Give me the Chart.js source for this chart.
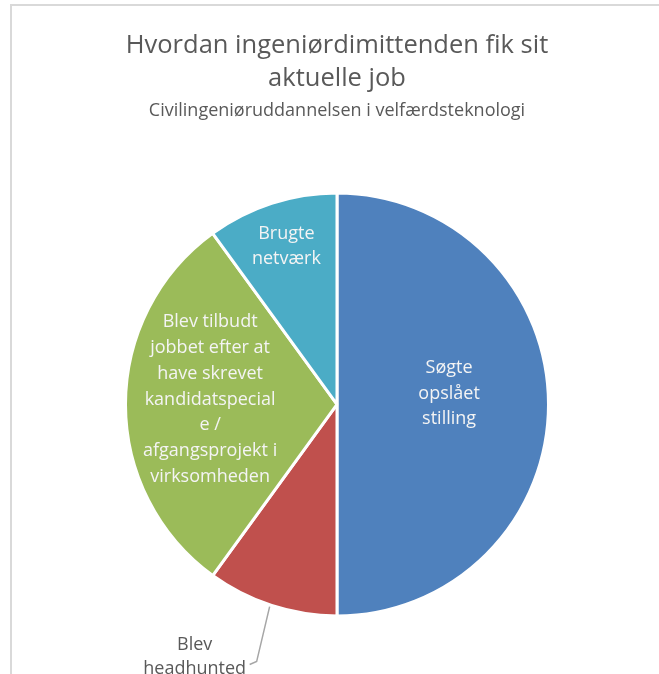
<!DOCTYPE html>
<html>
<head>
<meta charset="utf-8">
<script src="https://cdn.jsdelivr.net/npm/chart.js@4.4.0/dist/chart.umd.min.js"></script>
<style>
  html, body { margin: 0; padding: 0; background: #fff; }
  #wrap { position: relative; width: 659px; height: 674px; }
  #frame { position: absolute; left: 10px; top: 4px; right: -5px; bottom: -5px; border-top: 2px solid #d9d9d9; border-left: 2px solid #d9d9d9; }
  canvas { position: absolute; left: 0; top: 0; }
</style>
</head>
<body>
<div id="wrap">
  <div id="frame"></div>
  <canvas id="pie-chart" width="659" height="674"></canvas>
</div>
<script>
  // data
  var kategorier = ['Søgte opslået stilling', 'Blev headhunted', 'Blev tilbudt jobbet efter at have skrevet kandidatspeciale / afgangsprojekt i virksomheden', 'Brugte netværk'];
  var andele = [50, 10, 30, 10];
  var farver = ['#4F81BD', '#C0504D', '#9BBB59', '#4BACC6'];
  // how the labels wrap in the picture
  var etiketLinjer = [
    ['Søgte', 'opslået', 'stilling'],
    ['Blev', 'headhunted'],
    ['Blev tilbudt', 'jobbet efter at', 'have skrevet', 'kandidatspecial', 'e /', 'afgangsprojekt i', 'virksomheden'],
    ['Brugte', 'netværk']
  ];

  var FONT = '"Open Sans", Lato, sans-serif';

  // label placement per slice: distance from centre (fraction of radius) + small nudge, outside = leader line
  var etiketPos = [
    { d: 0.53, dy: -11 },
    { ude: true },
    { d: 0.60, dy: -5 },
    { d: 0.82, dx: 3, dy: 7 }
  ];

  var etiketPlugin = {
    id: 'etiketter',
    afterDatasetsDraw: function (chart) {
      var ctx = chart.ctx;
      var meta = chart.getDatasetMeta(0);
      ctx.save();
      ctx.font = '18px ' + FONT;
      ctx.textAlign = 'center';
      ctx.textBaseline = 'middle';
      var lh = 25.8;
      meta.data.forEach(function (arc, i) {
        var p = arc.getProps(['x', 'y', 'startAngle', 'endAngle', 'outerRadius'], true);
        var mid = (p.startAngle + p.endAngle) / 2;
        var linjer = etiketLinjer[i];
        var cx, cy, l = lh;
        if (etiketPos[i].ude) {
          // outside label with leader line
          var ex = p.x + Math.cos(mid) * p.outerRadius;
          var ey = p.y + Math.sin(mid) * p.outerRadius;
          ctx.strokeStyle = '#a6a6a6';
          ctx.lineWidth = 1.5;
          ctx.beginPath();
          ctx.moveTo(ex - 2, ey + 1);
          ctx.lineTo(ex - 15, ey + 56);
          ctx.lineTo(ex - 22, ey + 59);
          ctx.stroke();
          cx = ex - 77;
          cy = ey + 51;
          l = 24;
          ctx.fillStyle = '#595959';
        } else {
          var d = etiketPos[i].d * p.outerRadius;
          cx = p.x + Math.cos(mid) * d + (etiketPos[i].dx || 0);
          cy = p.y + Math.sin(mid) * d + etiketPos[i].dy;
          ctx.fillStyle = '#f4f4f4';
        }
        var top = cy - (linjer.length - 1) * l / 2;
        linjer.forEach(function (t, k) {
          ctx.fillText(t, cx, top + k * l);
        });
      });
      ctx.restore();
    }
  };

  new Chart(document.getElementById('pie-chart'), {
    type: 'pie',
    data: {
      labels: kategorier,
      datasets: [{
        data: andele,
        backgroundColor: farver,
        borderColor: '#ffffff',
        borderWidth: 3
      }]
    },
    options: {
      responsive: false,
      animation: false,
      layout: {
        padding: { top: 29, bottom: 56, left: 124, right: 109 }
      },
      plugins: {
        legend: { display: false },
        tooltip: { enabled: false },
        title: {
          display: true,
          text: ['Hvordan ingeniørdimittenden fik sit', 'aktuelle job'],
          color: '#595959',
          font: { family: FONT, size: 25.5, weight: 'normal', lineHeight: 1.3 },
          padding: { top: 0, bottom: 4 }
        },
        subtitle: {
          display: true,
          text: 'Civilingeniøruddannelsen i velfærdsteknologi',
          color: '#595959',
          font: { family: FONT, size: 18, weight: 'normal', lineHeight: 1.25 },
          padding: { top: 0, bottom: 69 }
        }
      }
    },
    plugins: [etiketPlugin]
  });
</script>
</body>
</html>
